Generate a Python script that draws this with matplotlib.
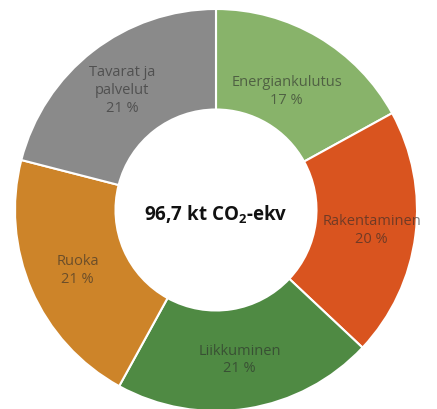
import matplotlib
matplotlib.use("Agg")
import matplotlib.pyplot as plt
import numpy as np

categories = ["Energiankulutus", "Rakentaminen", "Liikkuminen", "Ruoka", "Tavarat ja\npalvelut"]
shares = [17, 20, 21, 21, 21]
colors = ["#88b36a", "#d9541f", "#4f8a43", "#cd8429", "#8a8a8a"]
center_label = "96,7 kt CO$_\\mathbf{2}$-ekv"

plt.rcParams['font.family'] = ['Open Sans', 'DejaVu Sans']
plt.rcParams['mathtext.fontset'] = 'custom'
plt.rcParams['mathtext.rm'] = 'Open Sans'
plt.rcParams['mathtext.bf'] = 'Open Sans:bold'

W, H = 437, 410
fig = plt.figure(figsize=(W / 100, H / 100), dpi=100)
ax = fig.add_axes([0, 0, 1, 1])
cx, cy, R = 216, 211, 201

wedges, _ = ax.pie(shares, colors=colors, startangle=90, counterclock=False,
                   radius=1.0, wedgeprops=dict(width=0.5, edgecolor='white', linewidth=1.5))

ax.set_xlim(-cx / R, (W - cx) / R)
ax.set_ylim(-(H - cy) / R, cy / R)
ax.set_aspect('equal', adjustable='datalim')
ax.axis('off')

label_r = [0.69, 0.78, 0.75, 0.75, 0.76]
for w, cat, val, r in zip(wedges, categories, shares, label_r):
    ang = np.deg2rad((w.theta1 + w.theta2) / 2)
    x, y = r * np.cos(ang), r * np.sin(ang)
    ax.text(x, y, f"{cat}\n{val} %", ha='center', va='center', fontsize=10.5,
            color='#2a2a2a', alpha=0.6, linespacing=1.25)

ax.text(0, -0.02, center_label, ha='center', va='center', fontsize=13.5,
        fontweight='bold', color='#111111')

fig.savefig("out.png", dpi=100)
